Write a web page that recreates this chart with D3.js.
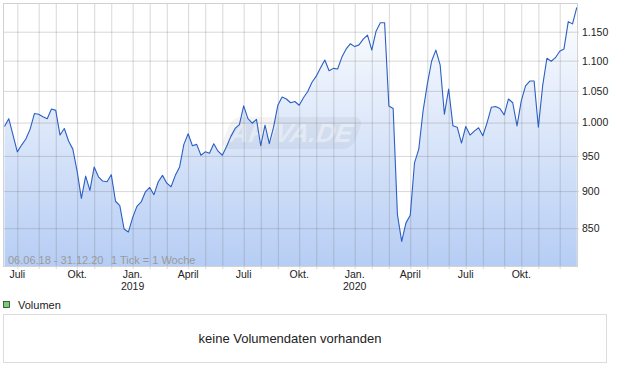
<!DOCTYPE html>
<html>
<head>
<meta charset="utf-8">
<script src="https://cdn.jsdelivr.net/npm/d3@7"></script>
<style>
  body { margin: 0; background: #fff; }
  svg text { font-family: "Liberation Sans", Arial, sans-serif; }
</style>
</head>
<body>
<div id="chart"></div>
<script>
// weekly closes, one per week starting Monday 04.06.2018
const startWeek = new Date(2018, 5, 4);
const closes = [
  994, 1006, 981, 956, 966, 975, 990, 1014, 1013, 1009,
  1006, 1021, 1019, 981, 991, 972, 960, 928, 890, 921,
  901, 934, 920, 914, 913, 923, 886, 880, 849, 845,
  864, 879, 885, 899, 905, 895, 913, 922, 911, 906,
  922, 934, 967, 983, 965, 967, 951, 956, 954, 968,
  957, 951, 964, 979, 991, 997, 1026, 1006, 999, 1005,
  965, 996, 968, 993, 1027, 1040, 1037, 1031, 1033, 1027,
  1039, 1049, 1064, 1074, 1088, 1101, 1083, 1087, 1086, 1106,
  1120, 1129, 1124, 1127, 1137, 1144, 1118, 1151, 1166, 1166,
  1026, 1022, 868, 833, 857, 867, 940, 960, 1018, 1061,
  1099, 1118, 1093, 1013, 1053, 995, 993, 969, 994, 981,
  987, 992, 980, 1000, 1024, 1025, 1022, 1012, 1037, 1031,
  995, 1034, 1058, 1066, 1066, 993, 1058, 1104, 1099, 1105,
  1116, 1120, 1168, 1164, 1194
];
const monthNames = ["Jan.", "Feb.", "März", "April", "Mai", "Juni", "Juli", "Aug.", "Sep.", "Okt.", "Nov.", "Dez."];
const labelMonths = [0, 3, 6, 9];
const yTicks = [850, 900, 950, 1000, 1050, 1100, 1150];
const rangeText = "06.06.18 - 31.12.20";
const tickText = "1 Tick = 1 Woche";
const legendText = "Volumen";
const noVolumeText = "keine Volumendaten vorhanden";

const width = 620, height = 371;
const plot = { left: 3, right: 577, top: 3, bottom: 266 };

const weeks = d3.timeMonday.range(startWeek, d3.timeMonday.offset(startWeek, closes.length));
const data = weeks.map((d, i) => ({ date: d, value: closes[i] }));

const de = d3.formatLocale({ decimal: ",", thousands: ".", grouping: [3], currency: ["", " €"] });

const x = d3.scaleTime().domain([weeks[0], weeks[weeks.length - 1]]).range([4.5, 576.8]);
const y = d3.scaleLog().domain([802, 1202]).range([plot.bottom, plot.top]);

// grid line sits on the week that holds the 1st of each month
const months = d3.timeMonth.range(new Date(2018, 6, 1), new Date(2021, 0, 1));
const gridWeeks = months.map(m => d3.timeMonday.floor(m));

const svg = d3.select("#chart").append("svg").attr("width", width).attr("height", height);

const grad = svg.append("defs").append("linearGradient")
  .attr("id", "areaGrad").attr("gradientUnits", "userSpaceOnUse")
  .attr("x1", 0).attr("x2", 0).attr("y1", plot.top).attr("y2", plot.bottom);
grad.append("stop").attr("offset", 0).attr("stop-color", "#ffffff");
grad.append("stop").attr("offset", 1).attr("stop-color", "#b6cdf4");

const area = d3.area().x(d => x(d.date)).y0(plot.bottom).y1(d => y(d.value));
svg.append("path").datum(data).attr("d", area).attr("fill", "url(#areaGrad)");

// watermark
const wm = svg.append("g").attr("transform", "translate(292,133) skewX(-20)");
wm.append("rect").attr("x", -66).attr("y", -16).attr("width", 132).attr("height", 32).attr("rx", 9)
  .attr("fill", "#000").attr("opacity", 0.045);
wm.append("text").attr("y", 9).attr("text-anchor", "middle")
  .style("font-size", "26px").style("font-weight", "bold")
  .attr("fill", "#fff").attr("opacity", 0.4).text("ARIVA.DE");

// grid
svg.append("g").attr("transform", `translate(${plot.left},0)`)
  .call(d3.axisRight(y).tickValues(yTicks).tickSize(plot.right - plot.left).tickFormat(""))
  .call(g => g.select(".domain").remove())
  .call(g => g.selectAll("line").attr("stroke", "rgba(110,110,110,0.27)"));

svg.append("g").attr("transform", `translate(0,${plot.top})`)
  .call(d3.axisBottom(x).tickValues(gridWeeks).tickSize(plot.bottom - plot.top + 3).tickFormat(""))
  .call(g => g.select(".domain").remove())
  .call(g => g.selectAll("line").attr("stroke", "rgba(110,110,110,0.27)"));

// price line
const line = d3.line().x(d => x(d.date)).y(d => y(d.value));
svg.append("path").datum(data).attr("d", line)
  .attr("fill", "none").attr("stroke", "#2b5fc3").attr("stroke-width", 1.1)
  .attr("stroke-linejoin", "round");

// frame
svg.append("rect")
  .attr("x", plot.left + 0.5).attr("y", plot.top + 0.5)
  .attr("width", plot.right - plot.left).attr("height", plot.bottom - plot.top)
  .attr("fill", "none").attr("stroke", "#d2d2d2");

// y labels
svg.append("g").attr("transform", `translate(${plot.right},0)`)
  .call(d3.axisRight(y).tickValues(yTicks).tickSize(2).tickPadding(3).tickFormat(de.format(",")))
  .call(g => g.select(".domain").remove())
  .call(g => g.selectAll("line").attr("stroke", "#d2d2d2"))
  .call(g => g.selectAll("text").attr("fill", "#222").style("font-size", "10.5px").style("font-family", null));

// x labels
const labeled = months.filter(m => labelMonths.includes(m.getMonth()));
svg.append("g").selectAll("text").data(labeled).enter().append("text")
  .attr("x", m => x(d3.timeMonday.floor(m)))
  .attr("y", 277.5)
  .attr("text-anchor", "middle")
  .attr("fill", "#222")
  .style("font-size", "10.5px")
  .text(m => monthNames[m.getMonth()]);

svg.append("g").selectAll("text").data(labeled.filter(m => m.getMonth() === 0)).enter().append("text")
  .attr("x", m => x(d3.timeMonday.floor(m)))
  .attr("y", 290)
  .attr("text-anchor", "middle")
  .attr("fill", "#222")
  .style("font-size", "10.5px")
  .text(m => m.getFullYear());

// range info
svg.append("text").attr("x", 8).attr("y", 263.5).attr("fill", "#9a9a9a")
  .style("font-size", "11px").text(rangeText);
svg.append("text").attr("x", 111).attr("y", 263.5).attr("fill", "#9a9a9a")
  .style("font-size", "11px").text(tickText);

// volume legend + empty panel
svg.append("rect").attr("x", 3.5).attr("y", 301.5).attr("width", 6).attr("height", 6)
  .attr("fill", "#6fd46f").attr("stroke", "#333").attr("stroke-width", 0.8);
svg.append("text").attr("x", 18).attr("y", 309).attr("fill", "#222")
  .style("font-size", "11px").text(legendText);

svg.append("rect").attr("x", 3.5).attr("y", 314.5).attr("width", 603).attr("height", 48)
  .attr("fill", "#fff").attr("stroke", "#dcdcdc");
svg.append("text").attr("x", 290).attr("y", 343).attr("text-anchor", "middle").attr("fill", "#222")
  .style("font-size", "13px").text(noVolumeText);
</script>
</body>
</html>
